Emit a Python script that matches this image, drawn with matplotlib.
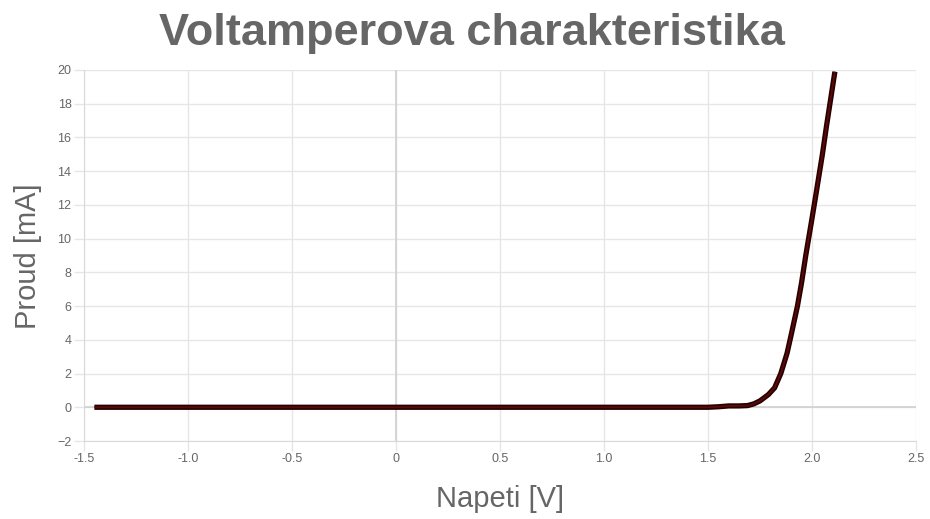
import matplotlib
matplotlib.use("Agg")
import matplotlib.pyplot as plt

# measured points of the diode I-V curve
napeti = [-1.45, -1.0, -0.5, 0.0, 0.5, 1.0, 1.5, 1.55, 1.6, 1.65, 1.69, 1.72,
          1.75, 1.79, 1.82, 1.85, 1.88, 1.9, 1.93, 1.95, 1.97, 2.0, 2.02,
          2.05, 2.07, 2.09, 2.11]
proud = [0.0, 0.0, 0.0, 0.0, 0.0, 0.0, 0.0, 0.03, 0.08, 0.08, 0.1, 0.2,
         0.38, 0.75, 1.15, 2.0, 3.2, 4.3, 6.0, 7.4, 9.0, 11.2, 12.7,
         15.0, 16.7, 18.3, 19.9]

x_ticks = [-1.5, -1.0, -0.5, 0, 0.5, 1.0, 1.5, 2.0, 2.5]
x_labels = ["-1.5", "-1.0", "-0.5", "0", "0.5", "1.0", "1.5", "2.0", "2.5"]
y_ticks = list(range(-2, 21, 2))

plt.rcParams["font.family"] = ["Liberation Sans", "DejaVu Sans"]
text_col = "#666666"
grid_col = "#e6e6e6"

fig = plt.figure(figsize=(9.3, 5.19), dpi=100)
ax = fig.add_axes([84 / 930, 1 - 441 / 519, 832 / 930, 371 / 519])

ax.plot(napeti, proud, color="#260000", lw=3.8, solid_capstyle="butt",
        solid_joinstyle="round", zorder=3)
ax.plot(napeti, proud, color="#5a0808", lw=1.4, solid_capstyle="butt",
        solid_joinstyle="round", zorder=4)

ax.set_xlim(-1.5, 2.5)
ax.set_ylim(-2, 20)
ax.set_xticks(x_ticks)
ax.set_xticklabels(x_labels)
ax.set_yticks(y_ticks)

ax.grid(True, color=grid_col, lw=1)
ax.axhline(0, color="#d0d0d0", lw=1.2, zorder=1)
ax.axvline(0, color="#d0d0d0", lw=1.2, zorder=1)
ax.set_axisbelow(True)

for side in ["top", "right"]:
    ax.spines[side].set_visible(False)
for side in ["left", "bottom"]:
    ax.spines[side].set_color("#d9d9d9")
ax.tick_params(colors=grid_col, length=7, width=1, labelcolor=text_col,
               labelsize=9, pad=2)

fig.text(500 / 930, 1 - 499 / 519, "Napeti [V]", ha="center", va="center",
         fontsize=21, color=text_col)
fig.text(28 / 930, 1 - 256 / 519, "Proud [mA]", ha="center", va="center",
         rotation=90, fontsize=21, color=text_col)
fig.text(472 / 930, 1 - 34 / 519, "Voltamperova charakteristika", ha="center",
         va="center", fontsize=32.5, fontweight="bold", color=text_col)

fig.savefig("out.png", dpi=100, facecolor="white")
